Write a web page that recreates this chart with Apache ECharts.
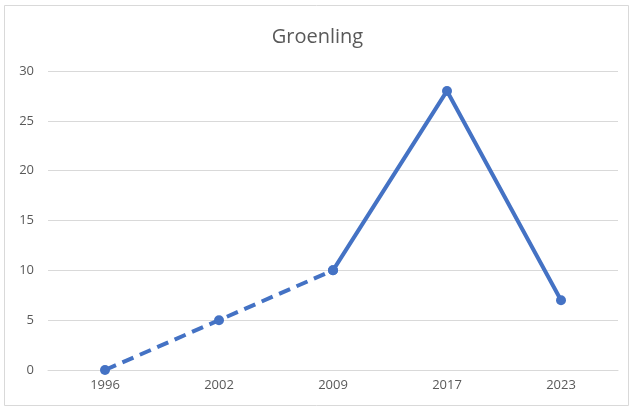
<!DOCTYPE html>
<html><head><meta charset="utf-8">
<script src="https://cdn.jsdelivr.net/npm/echarts@6/dist/echarts.min.js"></script>
<style>html,body{margin:0;padding:0;background:#fff}#c{width:635px;height:410px}</style>
</head><body><div id="c"></div>
<script>
const categories = ['1996','2002','2009','2017','2023'];
const dashedValues = [0, 5, 10, null, null];
const solidValues = [null, null, 10, 28, 7];
const yTicks = [0, 5, 10, 15, 20, 25, 30];

const chart = echarts.init(document.getElementById('c'), null, {renderer:'canvas'});
const font = 'Open Sans, Liberation Sans, sans-serif';
const color = '#4472C4';
chart.setOption({
  animation: false,
  backgroundColor: '#fff',
  title: {text: 'Groenling', left: 'center', top: 22,
    textStyle: {fontFamily: font, fontSize: 20, fontWeight: 'normal', color: '#595959'}},
  graphic: [{type:'rect', shape:{x:4.5,y:5.5,width:624,height:400}, style:{fill:'none', stroke:'#d9d9d9', lineWidth:1}, silent:true}],
  grid: {left: 48, right: 17, top: 71, bottom: 40},
  xAxis: {type:'category', data: categories, boundaryGap: true,
    axisLine:{show:true, lineStyle:{color:'#d9d9d9'}}, axisTick:{show:false},
    axisLabel:{fontFamily: font, fontSize: 13, color:'#595959', margin: 9}},
  yAxis: {type:'value', min: yTicks[0], max: yTicks[yTicks.length-1], interval: 5,
    axisLine:{show:false}, axisTick:{show:false},
    axisLabel:{fontFamily: font, fontSize: 13, color:'#595959', margin: 14},
    splitLine:{lineStyle:{color:'#d9d9d9', width:1}}},
  series: [
    {type:'line', data: dashedValues, symbol:'circle', symbolSize: 10, connectNulls:false,
     lineStyle:{color: color, width: 4, type:[12,7]}, itemStyle:{color: color}},
    {type:'line', data: solidValues, symbol:'circle', symbolSize: 10, connectNulls:false,
     lineStyle:{color: color, width: 4}, itemStyle:{color: color}}
  ]
});
</script></body></html>
